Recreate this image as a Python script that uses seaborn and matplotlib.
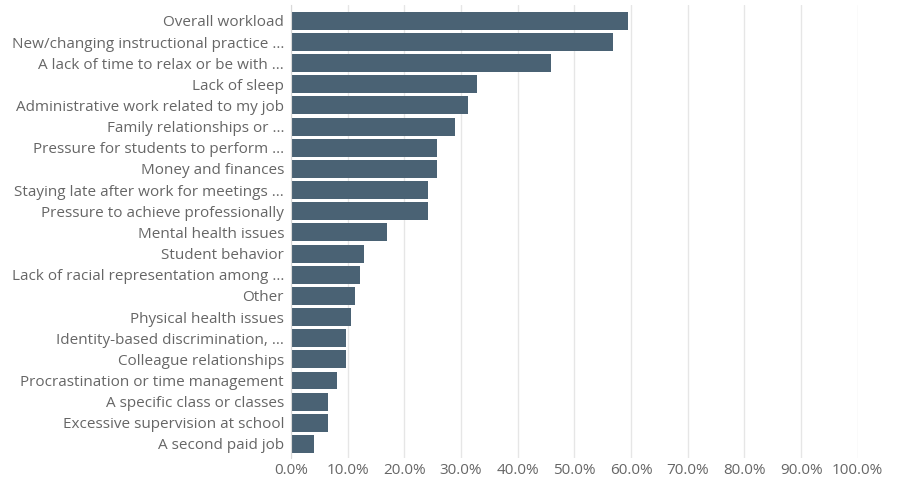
import matplotlib
matplotlib.use("Agg")
import matplotlib.pyplot as plt
import pandas as pd
import seaborn as sns
from matplotlib.ticker import PercentFormatter

# Data
categories = [
    "Overall workload",
    "New/changing instructional practice ...",
    "A lack of time to relax or be with ...",
    "Lack of sleep",
    "Administrative work related to my job",
    "Family relationships or ...",
    "Pressure for students to perform ...",
    "Money and finances",
    "Staying late after work for meetings ...",
    "Pressure to achieve professionally",
    "Mental health issues",
    "Student behavior",
    "Lack of racial representation among ...",
    "Other",
    "Physical health issues",
    "Identity-based discrimination, ...",
    "Colleague relationships",
    "Procrastination or time management",
    "A specific class or classes",
    "Excessive supervision at school",
    "A second paid job",
]
shares = [59.4, 56.9, 45.8, 32.9, 31.3, 28.9, 25.7, 25.7, 24.1, 24.1,
          16.9, 12.8, 12.2, 11.3, 10.5, 9.7, 9.7, 8.1, 6.6, 6.6, 4.1]
x_ticks = [0, 10, 20, 30, 40, 50, 60, 70, 80, 90, 100]

df = pd.DataFrame({"category": categories, "share": shares})

sns.set_style("white")
plt.rcParams["font.family"] = ["Open Sans", "DejaVu Sans"]

fig = plt.figure(figsize=(9.01, 4.79), dpi=100)
ax = fig.add_axes([0.323, 0.044, 0.629, 0.946])

sns.barplot(data=df, x="share", y="category", color="#4a6274",
            saturation=1, width=0.85, edgecolor="none", ax=ax)

ax.set_xlim(0, 100)
ax.set_ylim(20.66, -0.76)
ax.set_xticks(x_ticks)
ax.xaxis.set_major_formatter(PercentFormatter(decimals=1))
ax.grid(axis="x", color="#e6e6e6", linewidth=1)
ax.set_axisbelow(True)
ax.set_xlabel("")
ax.set_ylabel("")
for s in ["top", "right", "bottom"]:
    ax.spines[s].set_visible(False)
ax.spines["left"].set_color("#d9d9d9")
ax.tick_params(axis="both", length=0, labelsize=11, labelcolor="#666666")
ax.tick_params(axis="y", pad=5)
ax.tick_params(axis="x", pad=4)

fig.savefig("out.png", dpi=100)
